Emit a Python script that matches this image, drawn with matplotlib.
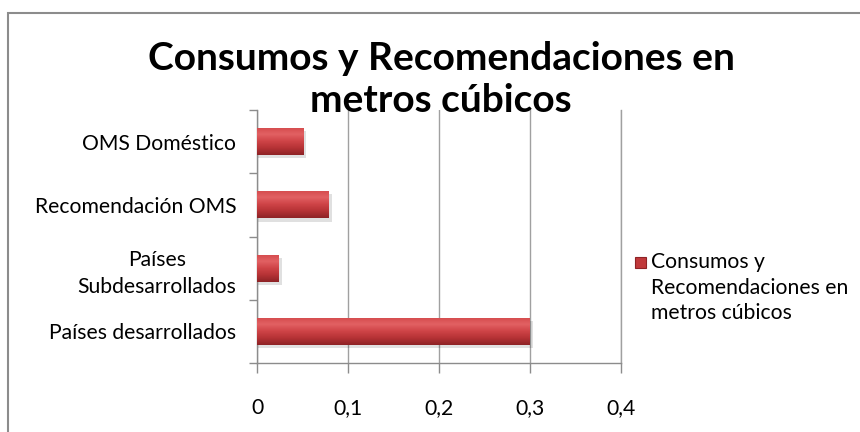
import numpy as np
import matplotlib.pyplot as plt
from matplotlib.patches import Rectangle

# Datos (de abajo hacia arriba)
categorias = ["Países desarrollados", "Países\nSubdesarrollados",
              "Recomendación OMS", "OMS Doméstico"]
valores = [0.30, 0.024, 0.079, 0.051]
serie = ["Consumos y", "Recomendaciones en", "metros cúbicos"]
xticks = [0, 0.1, 0.2, 0.3, 0.4]
xtick_labels = ["0", "0,1", "0,2", "0,3", "0,4"]

plt.rcParams['font.family'] = ['Lato', 'DejaVu Sans']

fig = plt.figure(figsize=(8.6, 4.32), dpi=100)
ax = fig.add_axes([257/860, 1 - 363/432, (621-257)/860, (363-110)/432])

# Marco exterior del gráfico
fig.patches.append(Rectangle((8/860, -0.05), 1.2, 1 - 13/432 + 0.05,
                             transform=fig.transFigure, fill=False,
                             edgecolor='#8c8c8c', lw=1.5))

y = np.arange(len(categorias))
bars = ax.barh(y, valores, height=0.43, color='none', zorder=3)

# Degradado vertical en cada barra
grad = np.linspace(0, 1, 64).reshape(-1, 1)
cmap = plt.matplotlib.colors.LinearSegmentedColormap.from_list(
    'rojo', ['#8e2326', '#b53235', '#cf4447', '#e26163', '#d44a4c'])
for b in bars:
    x0, y0 = b.get_x(), b.get_y()
    w, h = b.get_width(), b.get_height()
    # sombra
    ax.add_patch(Rectangle((x0, y0 - 0.05), w + 0.003, h, color='#000000',
                           alpha=0.12, lw=0, zorder=2))
    im = ax.imshow(grad, extent=(x0, x0 + w, y0, y0 + h), origin='lower',
                   cmap=cmap, aspect='auto', zorder=3)
    im.set_clip_path(b)

fs = 15.2
ax.set_xlim(0, 0.4)
ax.set_ylim(-0.5, len(categorias) - 0.5)
ax.set_xticks(xticks)
ax.set_xticklabels(xtick_labels, fontsize=fs)
ax.set_yticks(y)
ax.set_yticklabels(categorias, fontsize=fs, ha='right', multialignment='center',
                   linespacing=1.45)
ax.tick_params(axis='y', length=0, pad=15)
ax.set_yticks(np.arange(-0.5, len(categorias), 1), minor=True)
ax.tick_params(axis='y', which='minor', length=6, color='#8c8c8c', width=1)
ax.tick_params(axis='x', length=7, color='#8c8c8c', width=1, pad=18)
ax.grid(axis='x', color='#a0a0a0', lw=1, zorder=0)
ax.set_axisbelow(True)
ax.spines['top'].set_visible(False)
for s in ['left', 'bottom', 'right']:
    ax.spines[s].set_color('#a0a0a0' if s == 'right' else '#8c8c8c')
    ax.spines[s].set_linewidth(1)

# Título
fig.text(441/860, 1 - 58/432, "Consumos y Recomendaciones en",
         ha='center', va='center', fontsize=28, fontweight='bold')
fig.text(441/860, 1 - 100/432, "metros cúbicos",
         ha='center', va='center', fontsize=28, fontweight='bold')

# Leyenda
fig.patches.append(Rectangle((635/860, 1 - 268/432), 11/860, 11/432,
                             transform=fig.transFigure, facecolor='#c0393b',
                             edgecolor='#8e2326', lw=0.8))
for i, linea in enumerate(serie):
    fig.text(651/860, 1 - (262 + 25.5 * i)/432, linea, ha='left',
             va='center', fontsize=fs)

fig.savefig("out.png", dpi=100)
